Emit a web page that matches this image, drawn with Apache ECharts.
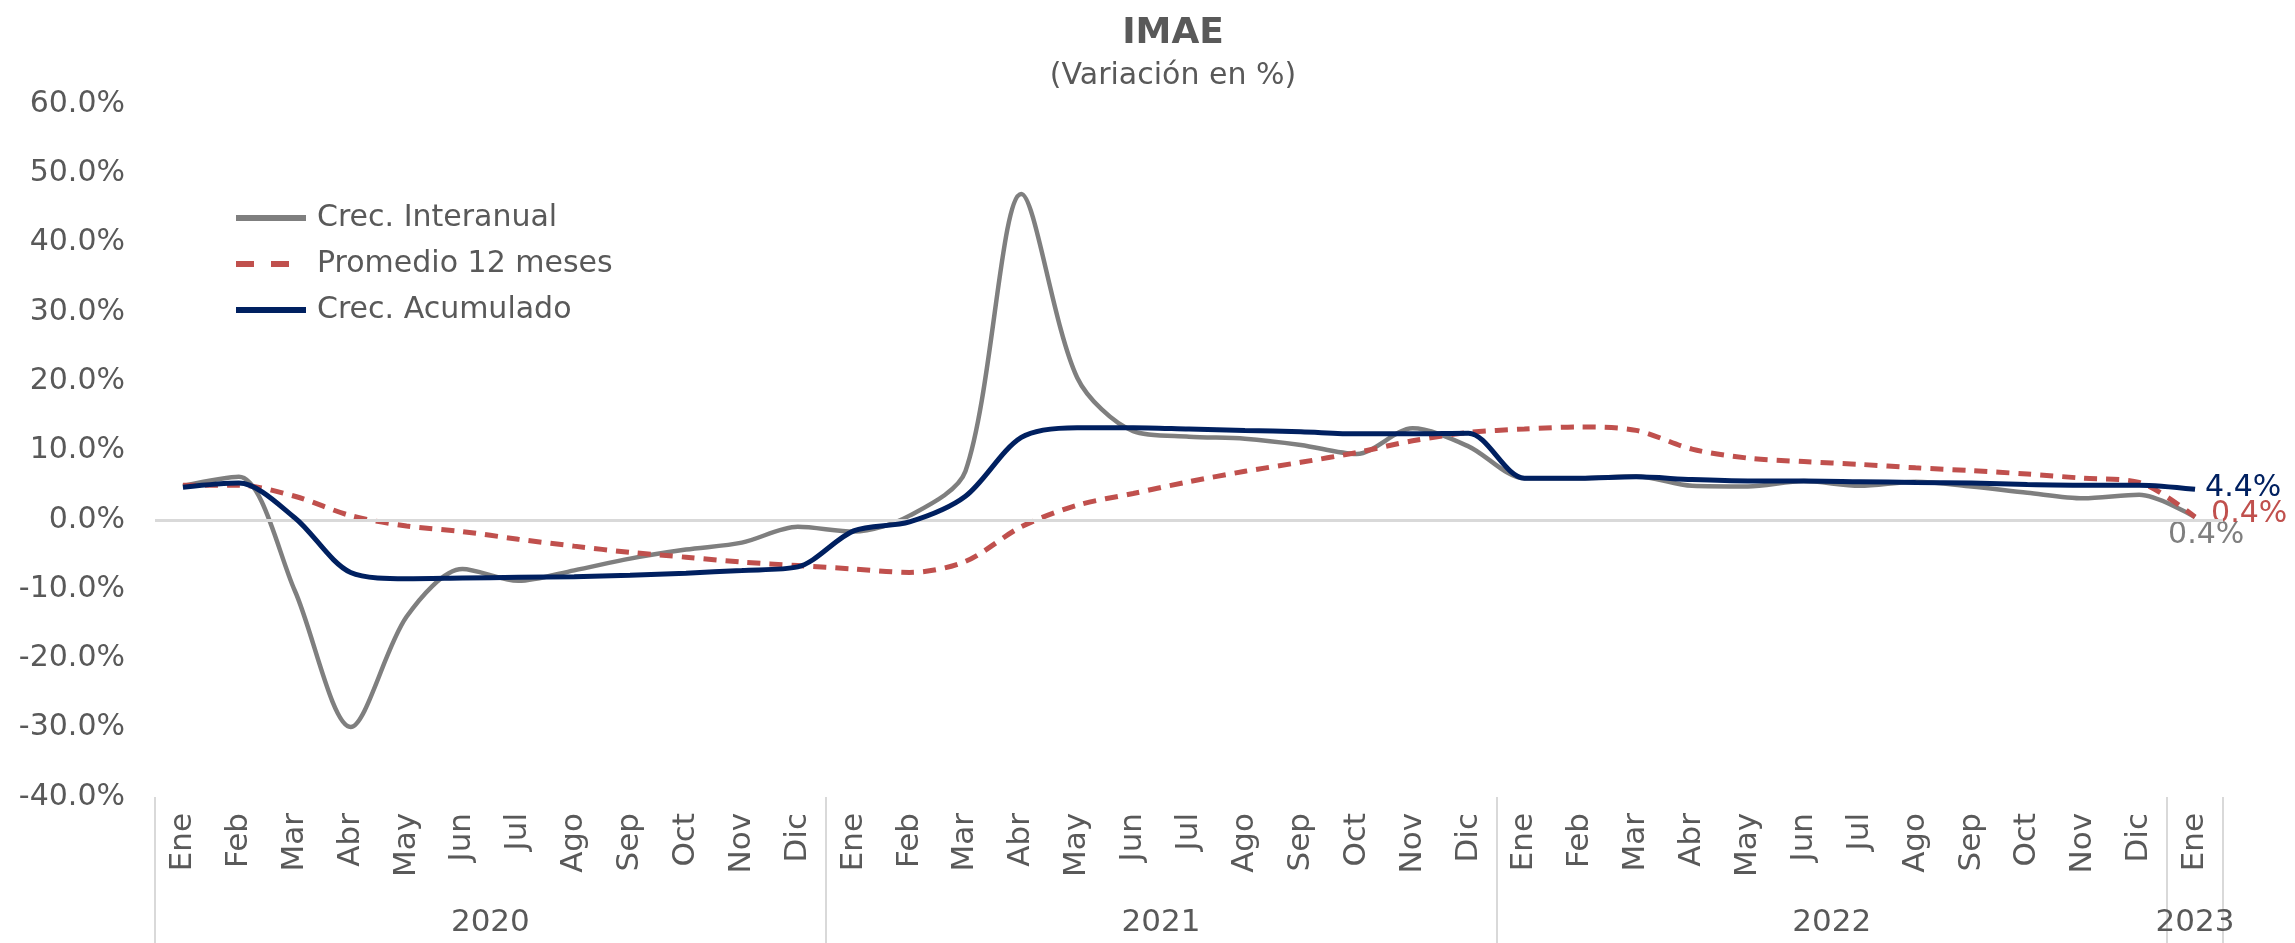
<!DOCTYPE html>
<html>
<head>
<meta charset="utf-8">
<title>IMAE</title>
<script src="https://cdn.jsdelivr.net/npm/echarts@6/dist/echarts.min.js"></script>
<style>
  html, body { margin: 0; padding: 0; background: #fff; }
  #chart { width: 2295px; height: 943px; }
</style>
</head>
<body>
<div id="chart"></div>
<script>
var monthNames = ['Ene', 'Feb', 'Mar', 'Abr', 'May', 'Jun', 'Jul', 'Ago', 'Sep', 'Oct', 'Nov', 'Dic'];
var years = ['2020', '2021', '2022', '2023'];
var monthsPerYear = [12, 12, 12, 1];

// Crec. Interanual (%)
var interanual = [4.9, 6.2, -10.2, -29.9, -14.0, -7.1, -8.8, -7.3, -5.6, -4.3, -3.3, -1.0,
                  -1.7, 0.6, 7.0, 47.0, 20.5, 12.8, 12.0, 11.7, 10.8, 9.5, 13.2, 10.6,
                  6.0, 6.0, 6.3, 4.9, 4.8, 5.6, 4.9, 5.5, 4.8, 3.9, 3.1, 3.6,
                  0.4];
// Promedio 12 meses (%)
var promedio = [5.0, 5.0, 3.4, 0.6, -0.9, -1.7, -2.8, -3.8, -4.7, -5.4, -6.1, -6.6,
                -7.1, -7.6, -6.0, -1.0, 2.1, 3.8, 5.5, 7.0, 8.3, 9.7, 11.4, 12.6,
                13.1, 13.4, 12.9, 10.2, 8.9, 8.4, 8.0, 7.5, 7.1, 6.6, 6.0, 5.4,
                0.4];
// Crec. Acumulado (%)
var acumulado = [4.7, 5.3, 0.3, -7.6, -8.5, -8.4, -8.3, -8.2, -8.0, -7.7, -7.3, -6.8,
                 -1.6, -0.3, 3.4, 11.9, 13.3, 13.3, 13.1, 12.9, 12.7, 12.4, 12.4, 12.5,
                 6.0, 6.0, 6.2, 5.8, 5.6, 5.6, 5.5, 5.4, 5.3, 5.1, 5.0, 5.0,
                 4.4];

var yTicks = [-40, -30, -20, -10, 0, 10, 20, 30, 40, 50, 60];

// month labels for every point
var categories = [];
monthsPerYear.forEach(function (n) {
  for (var i = 0; i < n; i++) categories.push(monthNames[i]);
});

// where each year starts and where its label sits
var yearStarts = [];
var yearMid = {};
var acc = 0;
monthsPerYear.forEach(function (n, k) {
  yearStarts.push(acc);
  yearMid[acc + n / 2] = years[k];
  acc += n;
});

var FONT = 'DejaVu Sans';
var GREY_TXT = '#595959';

function pct(v) { return v.toFixed(1) + '%'; }

function endLabel(color, offset) {
  return {
    show: true,
    distance: 0,
    offset: offset,
    color: color,
    fontSize: 30,
    fontFamily: FONT,
    formatter: function (p) { return pct(p.value); }
  };
}

var chart = echarts.init(document.getElementById('chart'));

var option = {
  animation: false,
  textStyle: { fontFamily: FONT },
  graphic: [
    {
      type: 'text', x: 1173, y: 34,
      style: { text: 'IMAE', font: 'bold 36px "DejaVu Sans"', fill: GREY_TXT, textAlign: 'center', textVerticalAlign: 'middle' }
    },
    {
      type: 'text', x: 1173, y: 76,
      style: { text: '(Variación en %)', font: '30px "DejaVu Sans"', fill: GREY_TXT, textAlign: 'center', textVerticalAlign: 'middle' }
    }
  ],
  legend: {
    data: [
      'Crec. Interanual',
      { name: 'Promedio 12 meses', lineStyle: { type: [18, 17] } },
      'Crec. Acumulado'
    ],
    orient: 'vertical',
    left: 228,
    top: 198,
    itemWidth: 70,
    itemHeight: 14,
    itemGap: 16,
    itemStyle: { opacity: 0 },
    lineStyle: { width: 6 },
    textStyle: { color: GREY_TXT, fontSize: 30, fontFamily: FONT, lineHeight: 30, padding: [0, 0, 0, 6] }
  },
  grid: { left: 155, right: 72, top: 104, bottom: 146 },
  xAxis: [
    {
      type: 'category',
      data: categories,
      boundaryGap: true,
      axisLine: { show: false, onZero: false },
      axisTick: {
        show: true,
        length: 150,
        interval: function (index) { return yearStarts.indexOf(index) >= 0; },
        lineStyle: { color: '#d9d9d9', width: 2 }
      },
      axisLabel: {
        interval: 0,
        rotate: 90,
        margin: 16,
        color: GREY_TXT,
        fontSize: 31,
        fontFamily: FONT
      }
    },
    {
      type: 'value',
      min: 0,
      max: categories.length,
      interval: 0.5,
      position: 'bottom',
      offset: 110,
      axisLine: { show: false, onZero: false },
      axisTick: { show: false },
      splitLine: { show: false },
      axisLabel: {
        margin: 0,
        color: GREY_TXT,
        fontSize: 31,
        fontFamily: FONT,
        showMinLabel: true,
        showMaxLabel: true,
        formatter: function (v) {
          var key = Math.round(v * 2) / 2;
          return yearMid[key] || '';
        }
      }
    }
  ],
  yAxis: {
    type: 'value',
    min: yTicks[0],
    max: yTicks[yTicks.length - 1],
    interval: yTicks[1] - yTicks[0],
    axisLine: { show: false },
    axisTick: { show: false },
    splitLine: { show: false },
    axisLabel: {
      margin: 30,
      color: GREY_TXT,
      fontSize: 30,
      fontFamily: FONT,
      formatter: pct
    }
  },
  series: [
    {
      name: 'cero',
      type: 'line',
      data: [],
      silent: true,
      z: 1,
      markLine: {
        silent: true,
        symbol: ['none', 'none'],
        label: { show: false },
        lineStyle: { color: '#d9d9d9', width: 3, type: 'solid' },
        data: [{ yAxis: 0 }]
      }
    },
    {
      name: 'Crec. Interanual',
      type: 'line',
      smooth: 0.3,
      symbol: 'none',
      z: 3,
      color: '#7f7f7f',
      lineStyle: { color: '#7f7f7f', width: 4.5 },
      data: interanual,
      endLabel: endLabel('#7f7f7f', [-27, 18])
    },
    {
      name: 'Promedio 12 meses',
      type: 'line',
      smooth: 0.3,
      symbol: 'none',
      z: 4,
      color: '#c0504d',
      lineStyle: { color: '#c0504d', width: 5, type: [13, 9] },
      data: promedio,
      endLabel: endLabel('#c0504d', [16, -3])
    },
    {
      name: 'Crec. Acumulado',
      type: 'line',
      smooth: 0.3,
      symbol: 'none',
      z: 5,
      color: '#002060',
      lineStyle: { color: '#002060', width: 5 },
      data: acumulado,
      endLabel: endLabel('#002060', [10, -1])
    }
  ]
};

chart.setOption(option);
window.addEventListener('resize', function () { chart.resize(); });
</script>
</body>
</html>
